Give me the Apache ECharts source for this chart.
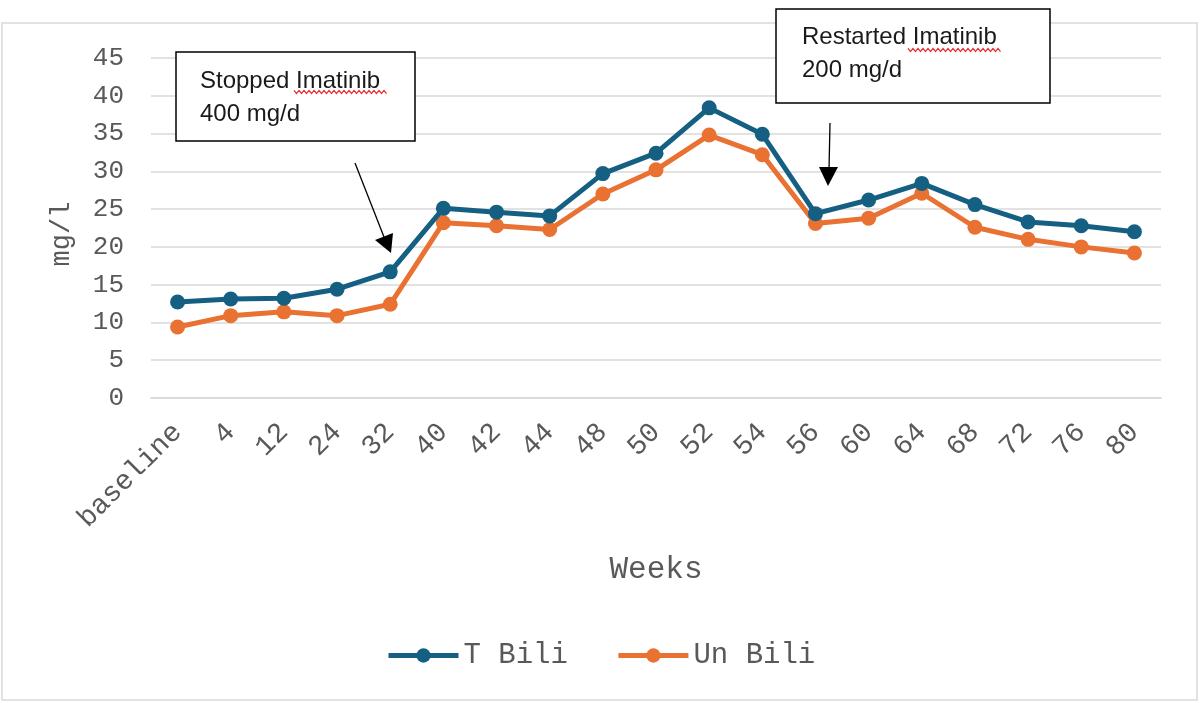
<!DOCTYPE html>
<html>
<head>
<meta charset="utf-8">
<script src="https://cdn.jsdelivr.net/npm/echarts@6/dist/echarts.min.js"></script>
<style>
html,body{margin:0;padding:0;background:#fff;}
#chart{width:1200px;height:703px;}
</style>
</head>
<body>
<div id="chart"></div>
<script>
const weeks = ['baseline','4','12','24','32','40','42','44','48','50','52','54','56','60','64','68','72','76','80'];
const tBili = [12.7,13.1,13.2,14.4,16.7,25.1,24.6,24.1,29.7,32.4,38.4,34.9,24.4,26.2,28.4,25.6,23.3,22.8,22.0];
const unBili = [9.4,10.9,11.4,10.9,12.4,23.2,22.8,22.3,27.0,30.2,34.8,32.2,23.1,23.8,27.1,22.6,21.0,20.0,19.2];
const seriesNames = ['T Bili','Un Bili'];
const yTicks = {min:0, max:45, step:5};
const notes = [
  {text:'Stopped Imatinib\n400 mg/d'},
  {text:'Restarted Imatinib\n200 mg/d'}
];

const mono = '"Liberation Mono", "Courier New", monospace';
const grey = '#595959';
const colors = ['#156082', '#E97132'];
const chart = echarts.init(document.getElementById('chart'));

function squiggle(x0, x1, y) {
  const pts = [];
  let up = true;
  for (let x = x0; x <= x1; x += 2.5) { pts.push([x, up ? y - 1.6 : y + 1.6]); up = !up; }
  return {type:'polyline', shape:{points:pts}, style:{stroke:'#e8262a', lineWidth:1.2, fill:null}, z:20};
}

chart.setOption({
  animation:false,
  backgroundColor:'#fff',
  grid:{left:151, right:39, top:58, bottom:305},
  xAxis:{
    type:'category', data:weeks, boundaryGap:true,
    name:'Weeks', nameLocation:'middle', nameGap:156,
    nameTextStyle:{fontFamily:mono, fontSize:31, color:grey},
    axisLine:{lineStyle:{color:'#d9d9d9', width:1.5}},
    axisTick:{show:false},
    axisLabel:{rotate:45, interval:0, fontFamily:mono, fontSize:28, color:grey, margin:30}
  },
  yAxis:{
    type:'value', min:yTicks.min, max:yTicks.max, interval:yTicks.step,
    name:'mg/l', nameLocation:'middle', nameGap:76,
    nameTextStyle:{fontFamily:mono, fontSize:27, color:grey, padding:[0,0,0,-12]},
    axisLine:{show:false}, axisTick:{show:false},
    axisLabel:{fontFamily:mono, fontSize:26, color:grey, margin:27},
    splitLine:{lineStyle:{color:'#d9d9d9', width:1.5}}
  },
  legend:{
    left:381, top:636, itemWidth:70, itemHeight:18, itemGap:48,
    textStyle:{fontFamily:mono, fontSize:29, color:grey},
    data:seriesNames.map((n, i) => ({name:n, lineStyle:{width:5, color:colors[i]}, itemStyle:{color:colors[i]}}))
  },
  series:[
    {name:seriesNames[0], type:'line', data:tBili, color:colors[0],
     symbol:'circle', symbolSize:15, lineStyle:{width:5}, z:3},
    {name:seriesNames[1], type:'line', data:unBili, color:colors[1],
     symbol:'circle', symbolSize:15, lineStyle:{width:5}, z:2}
  ],
  graphic:[
    {type:'rect', shape:{x:2, y:23, width:1195, height:677}, style:{fill:null, stroke:'#d9d9d9', lineWidth:1.5}, z:-1, silent:true},
    {type:'rect', shape:{x:176, y:52, width:239, height:89}, style:{fill:'#fff', stroke:'#000', lineWidth:1.5}, z:10},
    {type:'text', x:200, y:65, style:{text:notes[0].text, font:'24px "Liberation Sans", Arial, sans-serif', fill:'#1a1a1a', lineHeight:33}, z:11},
    squiggle(294, 388, 92),
    {type:'rect', shape:{x:776, y:9, width:274, height:94}, style:{fill:'#fff', stroke:'#000', lineWidth:1.5}, z:10},
    {type:'text', x:802, y:21, style:{text:notes[1].text, font:'24px "Liberation Sans", Arial, sans-serif', fill:'#1a1a1a', lineHeight:33}, z:11},
    squiggle(908, 1002, 50),
    {type:'line', shape:{x1:355, y1:163, x2:384, y2:237}, style:{stroke:'#000', lineWidth:1.3}, z:12},
    {type:'polygon', shape:{points:[[391,253],[375,240],[393,233]]}, style:{fill:'#000'}, z:12},
    {type:'line', shape:{x1:830, y1:123, x2:829, y2:170}, style:{stroke:'#000', lineWidth:1.3}, z:12},
    {type:'polygon', shape:{points:[[828,186],[819,167],[838,167]]}, style:{fill:'#000'}, z:12}
  ]
});
</script>
</body>
</html>
